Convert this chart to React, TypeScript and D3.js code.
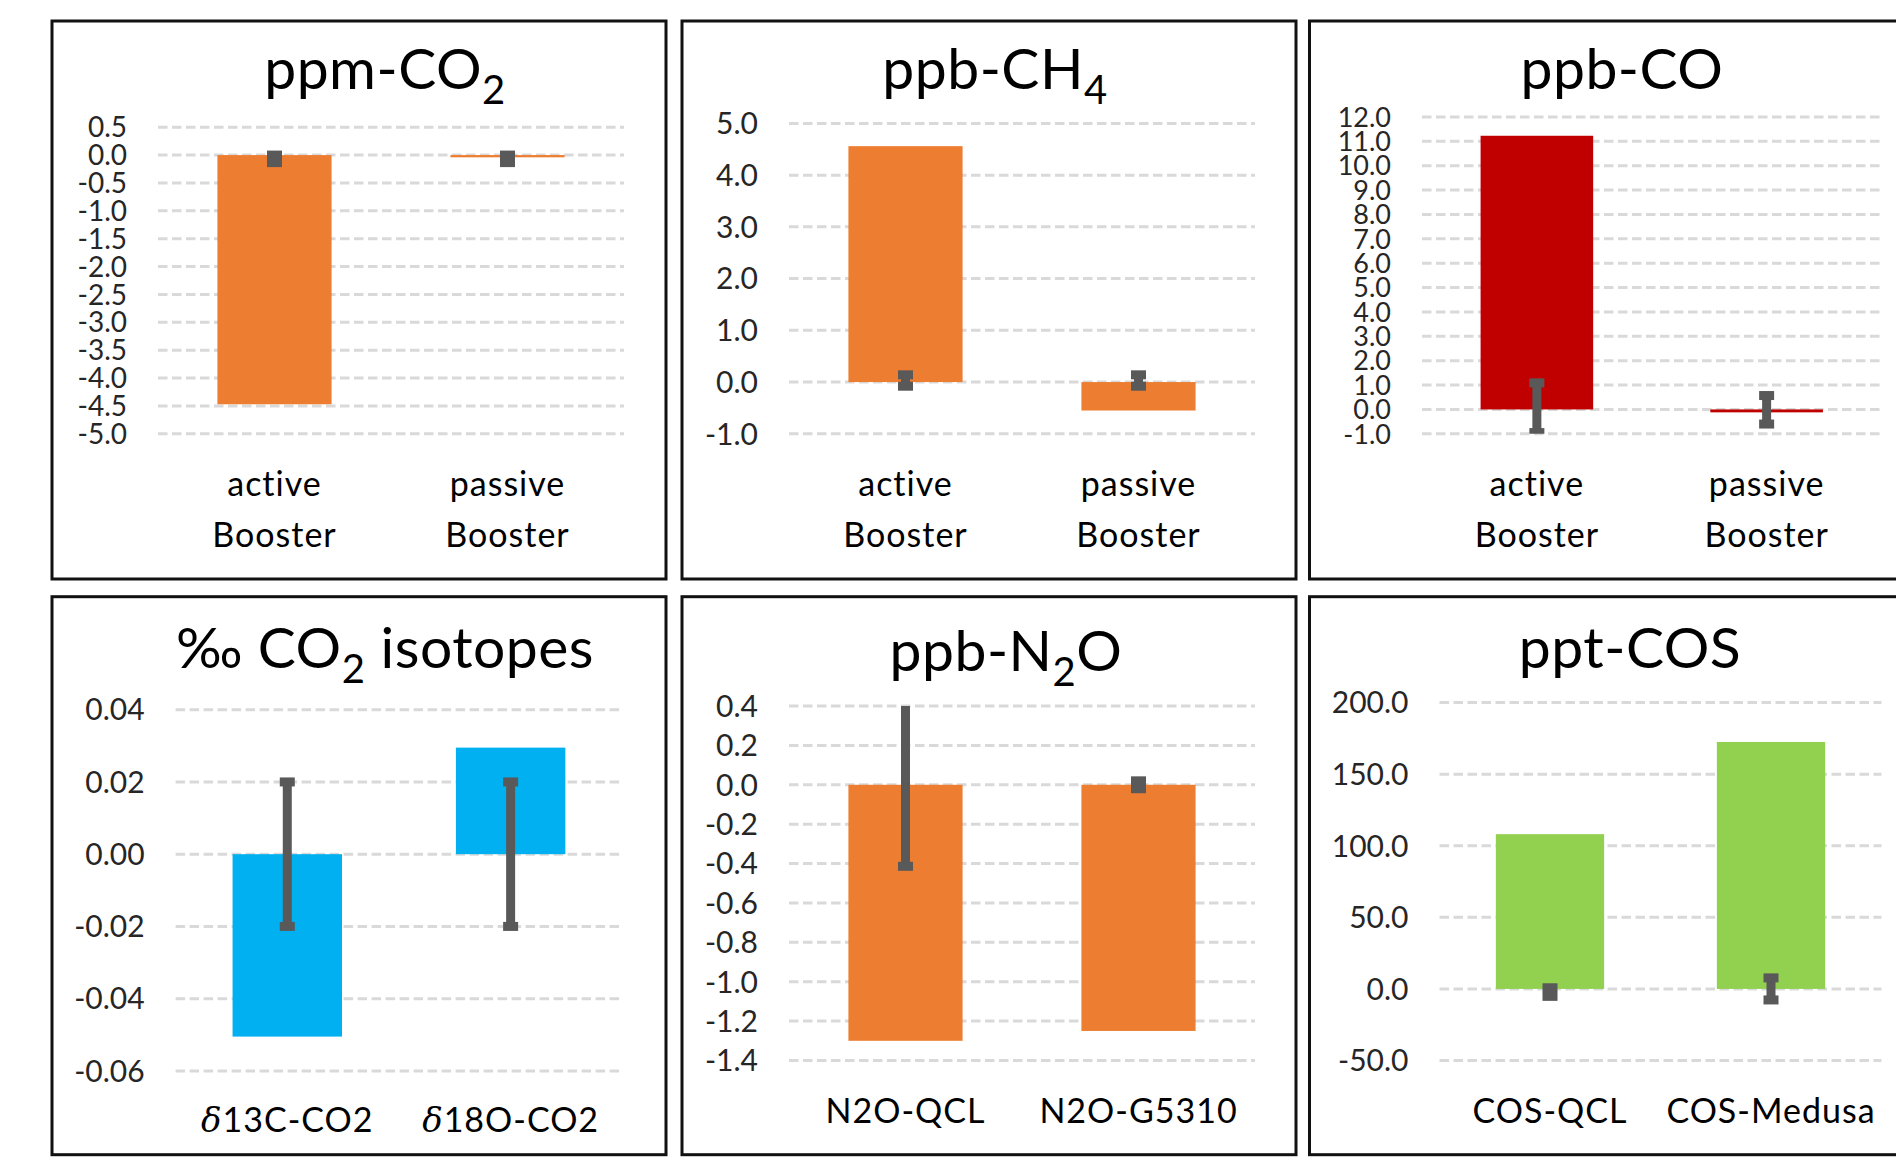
import React from 'react';
import * as d3 from 'd3';

// categories
const boosterCats = ['active Booster', 'passive Booster'];
const isoCats = ['δ13C-CO2', 'δ18O-CO2'];
const n2oCats = ['N2O-QCL', 'N2O-G5310'];
const cosCats = ['COS-QCL', 'COS-Medusa'];

// bar values
const co2Values = [-4.47, -0.04];
const ch4Values = [4.56, -0.55];
const coValues = [11.23, -0.12];
const isoValues = [-0.0505, 0.0295];
const n2oValues = [-1.3, -1.25];
const cosValues = [108.1, 172.5];

// error bars (low / high ends)
const co2ErrLow = [-0.135, -0.135];
const co2ErrHigh = [0.0, 0.0];
const ch4ErrLow = [-0.08, -0.08];
const ch4ErrHigh = [0.14, 0.14];
const coErrLow = [-0.95, -0.6];
const coErrHigh = [1.09, 0.57];
const isoErrLow = [-0.02, -0.02];
const isoErrHigh = [0.02, 0.02];
const n2oErrLow = [-0.414, -0.02];
const n2oErrHigh = [0.45, 0.02];
const cosErrLow = [-5.2, -7.7];
const cosErrHigh = [0.8, 7.7];

// tick labels
const co2Ticks = [0.5, 0.0, -0.5, -1.0, -1.5, -2.0, -2.5, -3.0, -3.5, -4.0, -4.5, -5.0];
const ch4Ticks = [5.0, 4.0, 3.0, 2.0, 1.0, 0.0, -1.0];
const coTicks = [12.0, 11.0, 10.0, 9.0, 8.0, 7.0, 6.0, 5.0, 4.0, 3.0, 2.0, 1.0, 0.0, -1.0];
const isoTicks = [0.04, 0.02, 0.0, -0.02, -0.04, -0.06];
const n2oTicks = [0.4, 0.2, 0.0, -0.2, -0.4, -0.6, -0.8, -1.0, -1.2, -1.4];
const cosTicks = [200.0, 150.0, 100.0, 50.0, 0.0, -50.0];

const ORANGE = '#ED7D31';
const FONT = "Lato, 'Open Sans', sans-serif";

const panels = [
  { id: 'p1', title: 'ppm-CO_2', cats: boosterCats, values: co2Values, lo: co2ErrLow, hi: co2ErrHigh, ticks: co2Ticks, digits: 1, color: ORANGE,
    x: 52, y: 21, plot: [106, 572, 106.2, 412.8], titleX: 333, titleY: 68, catY: [475, 526.4], tickSize: 28 },
  { id: 'p2', title: 'ppb-CH_4', cats: boosterCats, values: ch4Values, lo: ch4ErrLow, hi: ch4ErrHigh, ticks: ch4Ticks, digits: 1, color: ORANGE,
    x: 682, y: 21, plot: [107, 573, 102.4, 412.8], titleX: 313, titleY: 68, catY: [475, 526.4], tickSize: 30 },
  { id: 'p3', title: 'ppb-CO', cats: boosterCats, values: coValues, lo: coErrLow, hi: coErrHigh, ticks: coTicks, digits: 1, color: '#C00000',
    x: 1309.5, y: 21, plot: [112.5, 572, 96, 412.8], titleX: 312.5, titleY: 68, catY: [475, 526.4], tickSize: 27 },
  { id: 'p4', title: '‰ CO_2 isotopes', cats: isoCats, values: isoValues, lo: isoErrLow, hi: isoErrHigh, ticks: isoTicks, digits: 2, color: '#00B0F0',
    x: 52, y: 596.7, plot: [123.6, 570.3, 113, 474.2], titleX: 333, titleY: 71, catY: [535.3], tickSize: 30 },
  { id: 'p5', title: 'ppb-N_2O', cats: n2oCats, values: n2oValues, lo: n2oErrLow, hi: n2oErrHigh, ticks: n2oTicks, digits: 1, color: ORANGE,
    x: 682, y: 596.7, plot: [107, 573, 109.3, 463.8], titleX: 324, titleY: 74, catY: [526], tickSize: 30 },
  { id: 'p6', title: 'ppt-COS', cats: cosCats, values: cosValues, lo: cosErrLow, hi: cosErrHigh, ticks: cosTicks, digits: 1, color: '#92D050',
    x: 1309.5, y: 596.7, plot: [130, 572, 105.9, 463.8], titleX: 320.5, titleY: 71, catY: [526], tickSize: 30 },
];

function Title({ text, x, y }) {
  const parts = text.split(/_(\d)/);
  return (
    <text x={x} y={y} textAnchor="middle" fontFamily={FONT} fontSize={57} letterSpacing={0.5} fill="#000">
      {parts.map((p, i) =>
        i % 2 === 1 ? (
          <tspan key={i} fontSize={40} dy={15}>{p}</tspan>
        ) : (
          <tspan key={i} dy={i > 0 ? -15 : 0}>{p}</tspan>
        )
      )}
    </text>
  );
}

function CatLabel({ label, x, ys }) {
  const lines = ys.length > 1 ? label.split(' ') : [label];
  return (
    <g>
      {lines.map((line, i) => (
        <text key={i} x={x} y={ys[i]} textAnchor="middle" fontFamily={FONT} fontSize={34} letterSpacing={1} fill="#000">
          {line.startsWith('δ') ? (
            <>
              <tspan fontFamily="'DejaVu Serif', 'Liberation Serif', serif" fontStyle="italic">δ</tspan>
              <tspan>{line.slice(1)}</tspan>
            </>
          ) : (
            line
          )}
        </text>
      ))}
    </g>
  );
}

function Panel({ p }) {
  const [px0, px1, py0, py1] = p.plot;
  const x = d3.scaleBand().domain(p.cats).range([px0, px1]).paddingInner(0.51).paddingOuter(0.255);
  const y = d3.scaleLinear().domain([d3.min(p.ticks), d3.max(p.ticks)]).range([py1, py0]);
  const clipId = `clip-${p.id}`;
  const capW = 15;
  const capH = 9;
  const stemW = 9;
  return (
    <g transform={`translate(${p.x},${p.y})`}>
      <rect x={0} y={0} width={614} height={558} fill="#fff" stroke="#111" strokeWidth={3} />
      <defs>
        <clipPath id={clipId}>
          <rect x={px0} y={py0} width={px1 - px0} height={py1 - py0} />
        </clipPath>
      </defs>
      <Title text={p.title} x={p.titleX} y={p.titleY} />
      {p.ticks.map((t) => (
        <g key={t}>
          <line x1={px0} x2={px1} y1={y(t)} y2={y(t)} stroke="#D9D9D9" strokeWidth={3} strokeDasharray="9.5 4.5" />
          <text x={px0 - 31} y={y(t)} dy="0.36em" textAnchor="end" fontFamily={FONT} fontSize={p.tickSize} fill="#262626">
            {t.toFixed(p.digits)}
          </text>
        </g>
      ))}
      {p.cats.map((c, i) => {
        const v = p.values[i];
        return (
          <rect key={c} x={x(c)} width={x.bandwidth()} y={y(Math.max(0, v))} height={Math.abs(y(v) - y(0))} fill={p.color} />
        );
      })}
      <g clipPath={`url(#${clipId})`} fill="#595959">
        {p.cats.map((c, i) => {
          const cx = x(c) + x.bandwidth() / 2;
          const yh = y(p.hi[i]);
          const yl = y(p.lo[i]);
          return (
            <g key={c}>
              <rect x={cx - stemW / 2} y={yh} width={stemW} height={yl - yh} />
              <rect x={cx - capW / 2} y={yh - capH / 2} width={capW} height={capH} />
              <rect x={cx - capW / 2} y={yl - capH / 2} width={capW} height={capH} />
            </g>
          );
        })}
      </g>
      {p.cats.map((c) => (
        <CatLabel key={c} label={c} x={x(c) + x.bandwidth() / 2} ys={p.catY} />
      ))}
    </g>
  );
}

export default function App() {
  return (
    <>
      <style>{'body{margin:0;background:#fff}'}</style>
      <svg width={1896} height={1161} style={{ display: 'block' }}>
        <rect width={1896} height={1161} fill="#fff" />
        {panels.map((p) => (
          <Panel key={p.id} p={p} />
        ))}
      </svg>
    </>
  );
}
